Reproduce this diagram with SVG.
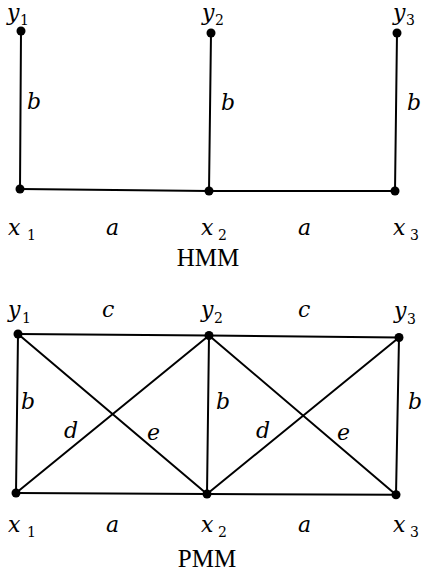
<svg xmlns="http://www.w3.org/2000/svg" width="422" height="577" viewBox="0 0 422 577">
<style>
.e{stroke:#000;stroke-width:2;fill:none;stroke-linecap:round}
.n{fill:#000}
.v{font-family:"DejaVu Serif","Liberation Serif",serif;font-style:italic;font-size:22px;fill:#000}
.s{font-family:"DejaVu Serif","Liberation Serif",serif;font-style:normal;font-size:14px}
.t{font-family:"Liberation Serif","Times New Roman",serif;font-size:25px;fill:#000;text-anchor:middle}
</style>
<rect width="422" height="577" fill="#fff"/>
<g id="connectors">
<line class="e" x1="21" y1="31" x2="20" y2="189"/>
<line class="e" x1="211" y1="33" x2="209" y2="191"/>
<line class="e" x1="397" y1="33" x2="395" y2="191"/>
<line class="e" x1="20" y1="189" x2="209" y2="191"/>
<line class="e" x1="209" y1="191" x2="395" y2="191"/>
<line class="e" x1="18" y1="334" x2="209" y2="335.5"/>
<line class="e" x1="209" y1="335.5" x2="399" y2="337.5"/>
<line class="e" x1="16" y1="493" x2="207" y2="494"/>
<line class="e" x1="207" y1="494" x2="396" y2="494.7"/>
<line class="e" x1="18" y1="334" x2="16" y2="493"/>
<line class="e" x1="209" y1="335.5" x2="207" y2="494"/>
<line class="e" x1="399" y1="337.5" x2="396" y2="494.7"/>
<line class="e" x1="18" y1="334" x2="207" y2="494"/>
<line class="e" x1="16" y1="493" x2="209" y2="335.5"/>
<line class="e" x1="209" y1="335.5" x2="396" y2="494.7"/>
<line class="e" x1="207" y1="494" x2="399" y2="337.5"/>
</g>
<g id="hmm-y1"><circle class="n" cx="21" cy="31" r="4.5"/><text class="v" x="7" y="20">y<tspan class="s" x="20" y="25">1</tspan></text></g>
<g id="hmm-y2"><circle class="n" cx="211" cy="33" r="4.5"/><text class="v" x="202" y="20">y<tspan class="s" x="215" y="25">2</tspan></text></g>
<g id="hmm-y3"><circle class="n" cx="397" cy="33" r="4.5"/><text class="v" x="393" y="20">y<tspan class="s" x="406" y="25">3</tspan></text></g>
<g id="hmm-x1"><circle class="n" cx="20" cy="189" r="4.5"/><text class="v" x="8" y="235">x<tspan class="s" x="27" y="240">1</tspan></text></g>
<g id="hmm-x2"><circle class="n" cx="209" cy="191" r="4.5"/><text class="v" x="201" y="235">x<tspan class="s" x="218" y="240">2</tspan></text></g>
<g id="hmm-x3"><circle class="n" cx="395" cy="191" r="4.5"/><text class="v" x="393" y="235">x<tspan class="s" x="410" y="240">3</tspan></text></g>
<g id="hmm-labels">
<text class="v" x="27" y="109">b</text>
<text class="v" x="221" y="110">b</text>
<text class="v" x="407" y="110">b</text>
<text class="v" x="106" y="235">a</text>
<text class="v" x="298" y="235">a</text>
<text class="t" x="208" y="266">HMM</text>
</g>
<g id="pmm-y1"><circle class="n" cx="18" cy="334" r="4.5"/><text class="v" x="8" y="317">y<tspan class="s" x="22" y="323">1</tspan></text></g>
<g id="pmm-y2"><circle class="n" cx="209" cy="335.5" r="4.5"/><text class="v" x="201" y="317">y<tspan class="s" x="214" y="323">2</tspan></text></g>
<g id="pmm-y3"><circle class="n" cx="399" cy="337.5" r="4.5"/><text class="v" x="394" y="318">y<tspan class="s" x="407" y="324">3</tspan></text></g>
<g id="pmm-x1"><circle class="n" cx="16" cy="493" r="4.5"/><text class="v" x="8" y="532">x<tspan class="s" x="27" y="537">1</tspan></text></g>
<g id="pmm-x2"><circle class="n" cx="207" cy="494" r="4.5"/><text class="v" x="201" y="532">x<tspan class="s" x="218" y="537">2</tspan></text></g>
<g id="pmm-x3"><circle class="n" cx="396" cy="494.7" r="4.5"/><text class="v" x="393" y="532">x<tspan class="s" x="410" y="537">3</tspan></text></g>
<g id="pmm-labels">
<text class="v" x="102" y="317">c</text>
<text class="v" x="298" y="317">c</text>
<text class="v" x="21" y="409">b</text>
<text class="v" x="216" y="409">b</text>
<text class="v" x="408" y="409">b</text>
<text class="v" x="64" y="438">d</text>
<text class="v" x="147" y="440">e</text>
<text class="v" x="256" y="438">d</text>
<text class="v" x="337" y="440">e</text>
<text class="v" x="106" y="532">a</text>
<text class="v" x="298" y="532">a</text>
<text class="t" x="207" y="567">PMM</text>
</g>
</svg>
